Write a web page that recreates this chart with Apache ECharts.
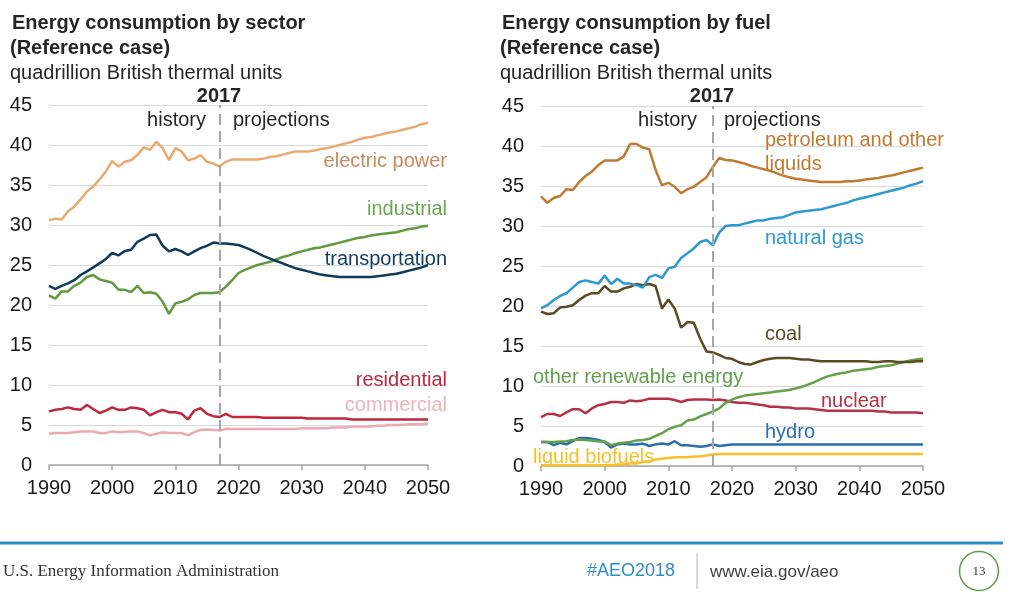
<!DOCTYPE html>
<html><head><meta charset="utf-8">
<script src="https://cdn.jsdelivr.net/npm/echarts@6/dist/echarts.min.js"></script>
<style>html,body{margin:0;padding:0;background:#fff}#c{width:1015px;height:599px}</style>
</head><body><div id="c"></div>
<script>
const years = [1990,1991,1992,1993,1994,1995,1996,1997,1998,1999,
  2000,2001,2002,2003,2004,2005,2006,2007,2008,2009,
  2010,2011,2012,2013,2014,2015,2016,2017,2018,2019,
  2020,2021,2022,2023,2024,2025,2026,2027,2028,2029,
  2030,2031,2032,2033,2034,2035,2036,2037,2038,2039,
  2040,2041,2042,2043,2044,2045,2046,2047,2048,2049,2050];
const xTicks = [1990,2000,2010,2020,2030,2040,2050];
const lastHistoryYear = 2017;

// sector (left)
const electricPower = [30.6,30.8,30.7,31.7,32.3,33.2,34.2,34.8,35.7,36.7,
  38.0,37.3,37.9,38.1,38.75,39.7,39.4,40.4,39.6,38.1,
  39.6,39.2,38.1,38.3,38.75,37.9,37.7,37.3,37.9,38.2,
  38.2,38.2,38.2,38.2,38.3,38.5,38.6,38.8,39.0,39.2,
  39.2,39.2,39.3,39.5,39.6,39.8,40.0,40.2,40.4,40.7,
  40.9,41.0,41.2,41.4,41.6,41.7,41.9,42.1,42.3,42.6,42.8];
const industrial = [21.2,20.8,21.7,21.7,22.4,22.8,23.5,23.75,23.2,23.0,
  22.8,21.9,21.9,21.6,22.4,21.5,21.6,21.4,20.4,18.9,
  20.2,20.4,20.7,21.25,21.5,21.5,21.5,21.6,22.3,23.1,
  24.0,24.4,24.7,25.0,25.2,25.4,25.7,26.0,26.2,26.5,
  26.7,26.9,27.1,27.2,27.4,27.6,27.8,28.0,28.2,28.4,
  28.5,28.7,28.8,28.9,29.0,29.1,29.3,29.5,29.6,29.8,29.9];
const transportation = [22.4,22.0,22.4,22.7,23.1,23.75,24.2,24.7,25.2,25.75,
  26.5,26.2,26.75,26.9,27.9,28.3,28.75,28.8,27.4,26.7,
  27.0,26.7,26.25,26.7,27.1,27.4,27.8,27.7,27.7,27.6,
  27.5,27.2,26.9,26.5,26.1,25.8,25.5,25.2,24.9,24.6,
  24.4,24.2,24.0,23.8,23.7,23.6,23.5,23.5,23.5,23.5,
  23.5,23.5,23.6,23.7,23.8,23.9,24.1,24.3,24.5,24.7,25.0];
const residential = [6.7,6.9,7.0,7.2,7.0,6.9,7.5,7.0,6.5,6.8,
  7.2,6.9,6.9,7.2,7.1,6.9,6.2,6.6,6.9,6.6,
  6.6,6.4,5.7,6.8,7.1,6.4,6.1,6.0,6.4,6.0,
  6.0,6.0,6.0,6.0,5.9,5.9,5.9,5.9,5.9,5.9,
  5.9,5.8,5.8,5.8,5.8,5.8,5.8,5.8,5.7,5.7,
  5.7,5.7,5.7,5.7,5.7,5.7,5.7,5.7,5.7,5.7,5.7];
const commercial = [3.9,4.0,4.0,4.0,4.1,4.2,4.2,4.2,4.0,4.0,
  4.2,4.1,4.15,4.2,4.2,4.0,3.7,3.9,4.1,4.0,
  4.0,4.0,3.7,4.1,4.4,4.4,4.4,4.3,4.5,4.5,
  4.5,4.5,4.5,4.5,4.5,4.5,4.5,4.5,4.5,4.5,
  4.6,4.6,4.6,4.6,4.6,4.7,4.7,4.7,4.8,4.8,
  4.8,4.8,4.9,4.9,5.0,5.0,5.0,5.1,5.1,5.1,5.2];

// fuel (right)
const petroleum = [33.7,32.9,33.5,33.75,34.6,34.5,35.5,36.25,36.8,37.6,
  38.2,38.2,38.2,38.7,40.25,40.25,39.8,39.6,37.0,35.1,
  35.4,34.9,34.1,34.6,34.9,35.5,36.1,37.4,38.5,38.25,
  38.2,38.0,37.8,37.5,37.3,37.1,36.9,36.6,36.3,36.1,
  35.9,35.8,35.7,35.6,35.5,35.5,35.5,35.5,35.6,35.6,
  35.7,35.8,35.9,36.0,36.2,36.3,36.5,36.7,36.9,37.1,37.3];
const naturalGas = [19.7,20.1,20.75,21.25,21.6,22.3,23.0,23.2,23.0,22.8,
  23.8,22.75,23.4,22.8,22.8,22.6,22.3,23.6,23.9,23.5,
  24.7,24.9,26.0,26.6,27.2,28.0,28.25,27.6,29.2,30.0,
  30.1,30.1,30.3,30.5,30.7,30.7,30.9,31.0,31.1,31.4,
  31.7,31.8,31.9,32.0,32.1,32.3,32.5,32.7,32.9,33.2,
  33.4,33.6,33.8,34.0,34.2,34.4,34.6,34.8,35.1,35.3,35.6];
const coal = [19.3,19.0,19.1,19.8,19.9,20.1,20.75,21.3,21.6,21.6,
  22.5,21.8,21.8,22.2,22.4,22.75,22.6,22.75,22.5,19.7,
  20.8,19.7,17.3,18.0,17.9,15.9,14.3,14.2,13.9,13.5,
  13.4,13.0,12.75,12.7,13.0,13.25,13.4,13.5,13.5,13.5,
  13.4,13.3,13.3,13.2,13.1,13.1,13.1,13.1,13.1,13.1,
  13.1,13.1,13.0,13.0,13.1,13.1,13.0,13.0,13.0,13.1,13.1];
const otherRenewable = [3.0,3.0,3.0,3.05,3.1,3.25,3.3,3.25,3.2,3.05,
  3.05,2.6,2.8,2.9,3.0,3.2,3.25,3.4,3.75,4.1,
  4.6,4.9,5.1,5.7,5.8,6.2,6.5,6.8,7.2,7.9,
  8.3,8.6,8.8,8.9,9.0,9.1,9.2,9.3,9.4,9.5,
  9.7,9.9,10.2,10.5,10.9,11.2,11.4,11.6,11.7,11.9,
  12.0,12.1,12.2,12.4,12.5,12.6,12.8,13.0,13.2,13.3,13.4];
const nuclear = [6.1,6.5,6.5,6.25,6.7,7.1,7.1,6.6,7.2,7.6,
  7.75,8.0,8.0,7.9,8.2,8.1,8.2,8.4,8.4,8.4,
  8.4,8.25,8.0,8.25,8.3,8.3,8.3,8.25,8.3,8.2,
  8.0,7.9,7.9,7.8,7.7,7.6,7.4,7.4,7.3,7.3,
  7.2,7.2,7.2,7.1,7.0,6.9,6.9,6.9,6.9,6.9,
  6.9,6.9,6.9,6.8,6.8,6.7,6.7,6.7,6.7,6.7,6.6];
const hydro = [3.0,3.0,2.6,2.9,2.7,3.1,3.5,3.5,3.4,3.25,
  3.0,2.3,2.7,2.8,2.7,2.7,2.8,2.5,2.7,2.8,
  2.7,3.1,2.6,2.6,2.5,2.4,2.5,2.7,2.5,2.6,
  2.7,2.7,2.7,2.7,2.7,2.7,2.7,2.7,2.7,2.7,
  2.7,2.7,2.7,2.7,2.7,2.7,2.7,2.7,2.7,2.7,
  2.7,2.7,2.7,2.7,2.7,2.7,2.7,2.7,2.7,2.7,2.7];
const liquidBiofuels = [0.1,0.1,0.1,0.1,0.1,0.1,0.1,0.1,0.1,0.1,
  0.1,0.1,0.2,0.2,0.3,0.3,0.5,0.6,0.8,0.9,
  1.0,1.1,1.1,1.1,1.2,1.2,1.3,1.45,1.5,1.5,
  1.5,1.5,1.5,1.5,1.5,1.5,1.5,1.5,1.5,1.5,
  1.5,1.5,1.5,1.5,1.5,1.5,1.5,1.5,1.5,1.5,
  1.5,1.5,1.5,1.5,1.5,1.5,1.5,1.5,1.5,1.5,1.5];

const FONT = '"Liberation Sans", Arial, sans-serif';
const SERIF = '"Liberation Serif", "Times New Roman", serif';
const pairs = arr => years.map((y, i) => [y, arr[i]]);

function line(name, arr, color, gi, extra) {
  return Object.assign({
    name, type: 'line', xAxisIndex: gi, yAxisIndex: gi,
    data: pairs(arr), showSymbol: false, symbol: 'none',
    lineStyle: { color, width: 2.5 }, itemStyle: { color }, z: 3
  }, extra || {});
}
const mark = {
  silent: true, symbol: ['none', 'none'], label: { show: false },
  lineStyle: { color: '#a6a6a6', width: 2, type: [11, 6] },
  data: [{ xAxis: lastHistoryYear }]
};

const xAxisBase = gi => ({
  gridIndex: gi, type: 'value', min: 1990, max: 2050, interval: 10,
  axisLine: { show: true, lineStyle: { color: '#a6a6a6', width: 1.5 } },
  axisTick: { show: true, length: 5, inside: false, lineStyle: { color: '#a6a6a6', width: 1.5 } },
  splitLine: { show: false },
  axisLabel: { fontSize: 20, color: '#1a1a1a', fontFamily: FONT, margin: 13,
    formatter: v => xTicks.includes(v) ? String(v) : '' }
});
const yAxisBase = gi => ({
  gridIndex: gi, type: 'value', min: 0, max: 45, interval: 5,
  axisLine: { show: false }, axisTick: { show: false },
  splitLine: { show: true, lineStyle: { color: '#d9d9d9', width: 1 } },
  axisLabel: { fontSize: 20, color: '#1a1a1a', fontFamily: FONT, margin: 17 }
});

function txt(x, y, text, fill, opts) {
  opts = opts || {};
  return { type: 'text', z: 100, silent: true, style: {
    x, y, text, fill, font: (opts.bold ? 'bold ' : '') + (opts.size || 20) + 'px ' + (opts.family || FONT),
    textAlign: opts.align || 'left', textVerticalAlign: 'middle' } };
}

const graphics = [
  txt(12, 23, 'Energy consumption by sector', '#262626', { bold: true }),
  txt(10, 48, '(Reference case)', '#262626', { bold: true }),
  txt(10, 73, 'quadrillion British thermal units', '#262626'),
  txt(219, 96, '2017', '#262626', { bold: true, align: 'center' }),
  txt(206, 120, 'history', '#262626', { align: 'right' }),
  txt(233, 120, 'projections', '#262626'),
  txt(447, 161, 'electric power', '#C98A5B', { align: 'right' }),
  txt(447, 209, 'industrial', '#6AA84F', { align: 'right' }),
  txt(447, 259, 'transportation', '#0F3C5E', { align: 'right' }),
  txt(447, 380, 'residential', '#C0263C', { align: 'right' }),
  txt(447, 405, 'commercial', '#EFB3B8', { align: 'right' }),

  txt(502, 23, 'Energy consumption by fuel', '#262626', { bold: true }),
  txt(500, 48, '(Reference case)', '#262626', { bold: true }),
  txt(500, 73, 'quadrillion British thermal units', '#262626'),
  txt(712, 96, '2017', '#262626', { bold: true, align: 'center' }),
  txt(697, 120, 'history', '#262626', { align: 'right' }),
  txt(724, 120, 'projections', '#262626'),
  txt(765, 140, 'petroleum and other', '#C07A30'),
  txt(765, 164, 'liquids', '#C07A30'),
  txt(765, 238, 'natural gas', '#2C9AD1'),
  txt(765, 334, 'coal', '#5C4A22'),
  txt(533, 377, 'other renewable energy', '#62A14A'),
  txt(821, 401, 'nuclear', '#B63046'),
  txt(765, 432, 'hydro', '#2A6DB3'),
  txt(533, 457, 'liquid biofuels', '#F6C02C'),

  { type: 'rect', silent: true, shape: { x: 0, y: 541.5, width: 1003, height: 3 }, style: { fill: '#2E8DC8' } },
  txt(3, 572, 'U.S. Energy Information Administration', '#333333', { size: 17, family: SERIF }),
  txt(587, 571, '#AEO2018', '#2E8DC8', { size: 18 }),
  { type: 'line', silent: true, shape: { x1: 697, y1: 553, x2: 697, y2: 589 }, style: { stroke: '#d0d0d0', lineWidth: 1.5 } },
  txt(710, 572, 'www.eia.gov/aeo', '#404040', { size: 17 }),
  { type: 'circle', silent: true, shape: { cx: 979, cy: 571, r: 19.5 }, style: { fill: 'none', stroke: '#5E9E48', lineWidth: 1.5 } },
  txt(979, 572, '13', '#333333', { size: 13, align: 'center', family: SERIF })
];

const chart = echarts.init(document.getElementById('c'), null, { renderer: 'canvas' });
chart.setOption({
  animation: false,
  backgroundColor: '#ffffff',
  grid: [
    { left: 49, top: 105, width: 379, height: 360 },
    { left: 541, top: 106, width: 382, height: 360 }
  ],
  xAxis: [xAxisBase(0), xAxisBase(1)],
  yAxis: [yAxisBase(0), yAxisBase(1)],
  series: [
    line('commercial', commercial, '#EBAAB1', 0, { markLine: mark }),
    line('residential', residential, '#C0263C', 0),
    line('industrial', industrial, '#5F9B3D', 0),
    line('transportation', transportation, '#0F3A5C', 0),
    line('electric power', electricPower, '#E8AA70', 0),

    line('liquid biofuels', liquidBiofuels, '#F6C02C', 1, { markLine: mark }),
    line('hydro', hydro, '#2A6DB3', 1),
    line('nuclear', nuclear, '#B63046', 1),
    line('other renewable energy', otherRenewable, '#62A14A', 1),
    line('coal', coal, '#5C4A22', 1),
    line('natural gas', naturalGas, '#2C9AD1', 1),
    line('petroleum and other liquids', petroleum, '#C07A30', 1)
  ],
  graphic: graphics
});
</script>
</body></html>
